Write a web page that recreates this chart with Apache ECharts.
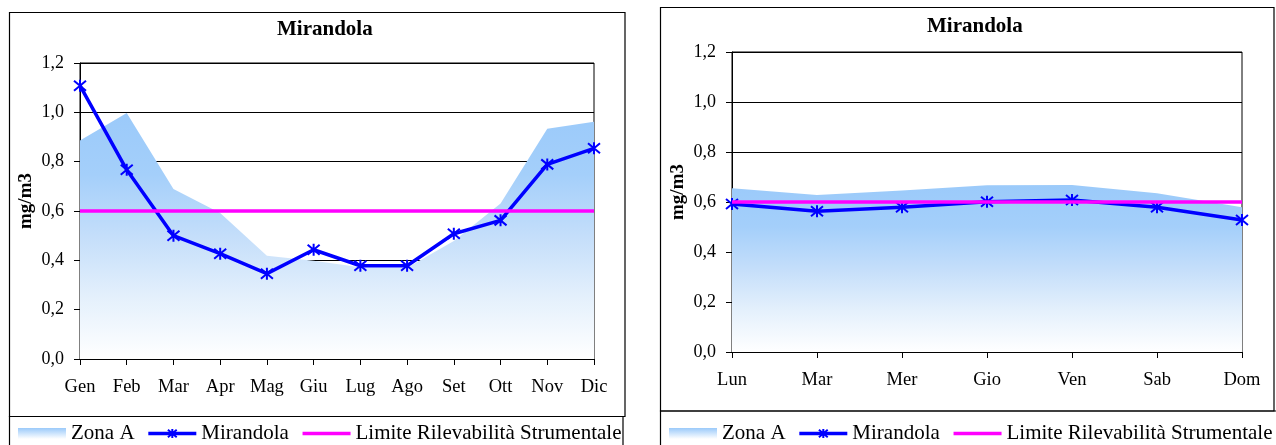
<!DOCTYPE html>
<html>
<head>
<meta charset="utf-8">
<script src="https://cdn.jsdelivr.net/npm/echarts@6/dist/echarts.min.js"></script>
<style>
html,body{margin:0;padding:0;background:#fff;}
#chart{width:1276px;height:445px;}
</style>
</head>
<body>
<div id="chart"></div>
<script>
// ---- data ----
const months = ['Gen','Feb','Mar','Apr','Mag','Giu','Lug','Ago','Set','Ott','Nov','Dic'];
const zonaAMonth = [0.886, 0.997, 0.689, 0.592, 0.419, 0.398, 0.372, 0.370, 0.478, 0.630, 0.933, 0.962];
const mirandolaMonth = [1.108, 0.767, 0.500, 0.427, 0.346, 0.443, 0.378, 0.378, 0.508, 0.562, 0.789, 0.854];
const limiteMonth = [0.6, 0.6, 0.6, 0.6, 0.6, 0.6, 0.6, 0.6, 0.6, 0.6, 0.6, 0.6];

const days = ['Lun','Mar','Mer','Gio','Ven','Sab','Dom'];
const zonaADay = [0.655, 0.628, 0.646, 0.667, 0.668, 0.635, 0.579];
const mirandolaDay = [0.592, 0.563, 0.579, 0.601, 0.608, 0.579, 0.528];
const limiteDay = [0.6, 0.6, 0.6, 0.6, 0.6, 0.6, 0.6];

const yTickLabels = ['0,0','0,2','0,4','0,6','0,8','1,0','1,2'];
const chartTitle = 'Mirandola';
const yName = 'mg/m3';
const nameZona = 'Zona A';
const nameMir = 'Mirandola';
const nameLim = 'Limite Rilevabilità Strumentale';

// ---- styles ----
const FONT = '"Liberation Serif", "Times New Roman", serif';
const BLUE = '#0000FF';
const MAGENTA = '#FF00FF';
function areaGrad() {
  return new echarts.graphic.LinearGradient(0, 0, 0, 1, [
    {offset: 0, color: '#9BCAFA'},
    {offset: 0.25, color: '#A4CFFA'},
    {offset: 0.5, color: '#C4DEFA'},
    {offset: 0.75, color: '#E4F0FC'},
    {offset: 1, color: '#FFFFFF'}
  ]);
}
const starPath = 'path://M0,0L10,10M10,0L0,10M5,-1L5,11';

function yAxis(gridIndex) {
  return {
    type: 'value', gridIndex: gridIndex, min: 0, max: 1.2, interval: 0.2,
    name: yName, nameLocation: 'middle', nameGap: 44,
    nameTextStyle: {fontFamily: FONT, fontSize: 19, fontWeight: 'bold', color: '#000', padding: [0, 0, 0, 20]},
    axisLine: {show: true, lineStyle: {color: '#000', width: 1}},
    axisTick: {show: true, length: 6, lineStyle: {color: '#000'}},
    axisLabel: {
      fontFamily: FONT, fontSize: 18, color: '#000', margin: 16,
      formatter: function (v) { return yTickLabels[Math.round(v / 0.2)]; }
    },
    splitLine: {show: true, lineStyle: {color: '#000', width: 1}}
  };
}
function xAxis(gridIndex, cats) {
  return {
    type: 'category', gridIndex: gridIndex, data: cats, boundaryGap: false,
    axisLine: {show: true, lineStyle: {color: '#000', width: 1}},
    axisTick: {show: true, length: 6, alignWithLabel: true, lineStyle: {color: '#000'}},
    axisLabel: {fontFamily: FONT, fontSize: 18.5, color: '#000', margin: 19, interval: 0},
    splitLine: {show: false}
  };
}
function seriesFor(idx, zona, mir, lim) {
  return [
    {
      name: nameZona, type: 'line', xAxisIndex: idx, yAxisIndex: idx, data: zona,
      symbol: 'none', lineStyle: {width: 0, color: '#9BCAFA'},
      itemStyle: {color: '#9BCAFA'},
      areaStyle: {color: areaGrad(), opacity: 1},
      silent: true, z: 2
    },
    {
      name: nameMir, type: 'line', xAxisIndex: idx, yAxisIndex: idx, data: mir,
      symbol: starPath, symbolSize: 12, showSymbol: true,
      lineStyle: {width: 3.5, color: BLUE},
      itemStyle: {color: BLUE, borderColor: BLUE, borderWidth: 2},
      z: 3
    },
    {
      name: nameLim, type: 'line', xAxisIndex: idx, yAxisIndex: idx, data: lim,
      symbol: 'none', lineStyle: {width: 3.5, color: MAGENTA},
      itemStyle: {color: MAGENTA}, z: 4
    }
  ];
}
function legendFor(left) {
  return {
    left: left, top: 423, orient: 'horizontal', padding: 0, width: 640,
    itemWidth: 48, itemHeight: 11, itemGap: 12,
    textStyle: {fontFamily: FONT, fontSize: 21, color: '#000'},
    selectedMode: false,
    data: [
      {name: nameZona, icon: 'rect', itemStyle: {color: new echarts.graphic.LinearGradient(0, 0, 0, 1, [
        {offset: 0, color: '#9BCAFA'}, {offset: 1, color: '#FFFFFF'}])}},
      {name: nameMir, lineStyle: {width: 3.5}},
      {name: nameLim, lineStyle: {width: 3.5}, itemStyle: {opacity: 0}}
    ]
  };
}

const chart = echarts.init(document.getElementById('chart'), null, {renderer: 'canvas'});
chart.setOption({
  backgroundColor: '#fff',
  animation: false,
  title: [
    {text: chartTitle, left: 277, top: 19.5, padding: 0, textStyle: {fontFamily: FONT, fontSize: 21, fontWeight: 'bold', color: '#000'}},
    {text: chartTitle, left: 927, top: 16, padding: 0, textStyle: {fontFamily: FONT, fontSize: 21, fontWeight: 'bold', color: '#000'}}
  ],
  grid: [
    {left: 80, right: 682, top: 63, bottom: 86, show: true, borderColor: '#000', borderWidth: 1, backgroundColor: 'transparent'},
    {left: 732, right: 34, top: 52, bottom: 93, show: true, borderColor: '#000', borderWidth: 1, backgroundColor: 'transparent'}
  ],
  xAxis: [xAxis(0, months), xAxis(1, days)],
  yAxis: [yAxis(0), yAxis(1)],
  legend: [legendFor(18), legendFor(669)],
  series: seriesFor(0, zonaAMonth, mirandolaMonth, limiteMonth)
    .concat(seriesFor(1, zonaADay, mirandolaDay, limiteDay)),
  graphic: [
    {type: 'rect', shape: {x: 9.5, y: 12.5, width: 615.5, height: 404}, style: {fill: null, stroke: '#000', lineWidth: 1.2}, silent: true, z: 0},
    {type: 'rect', shape: {x: 9.5, y: 416.5, width: 613.5, height: 60}, style: {fill: null, stroke: '#000', lineWidth: 1.2}, silent: true, z: 0},
    {type: 'rect', shape: {x: 660.5, y: 7.5, width: 613.5, height: 403.5}, style: {fill: null, stroke: '#000', lineWidth: 1.2}, silent: true, z: 0},
    {type: 'rect', shape: {x: 660.5, y: 411, width: 620, height: 60}, style: {fill: null, stroke: '#000', lineWidth: 1.2}, silent: true, z: 0}
  ]
});
</script>
</body>
</html>
